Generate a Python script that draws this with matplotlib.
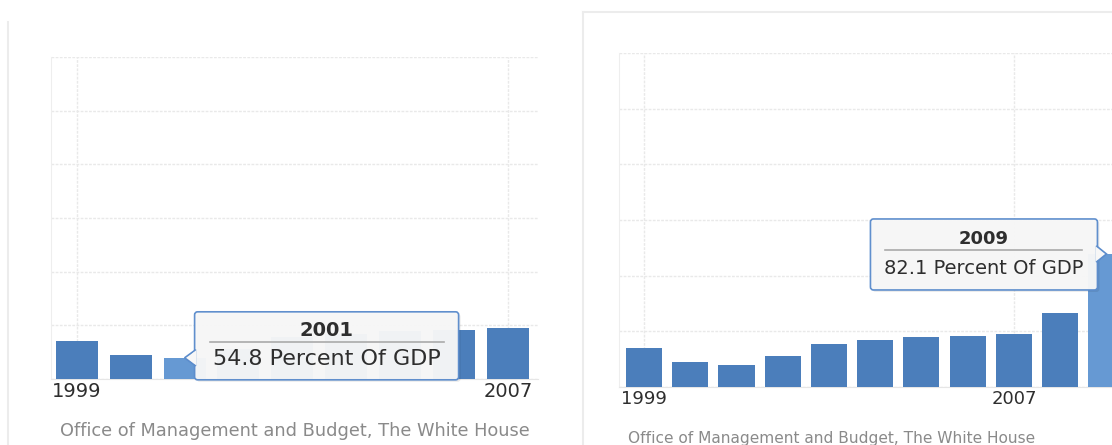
import matplotlib
matplotlib.use('Agg')
import matplotlib.pyplot as plt
import numpy as np
from matplotlib.patches import FancyBboxPatch, Polygon
from matplotlib.lines import Line2D
from matplotlib.transforms import IdentityTransform

# data
years = [1999, 2000, 2001, 2002, 2003, 2004, 2005, 2006, 2007, 2008, 2009]
debt_gdp = [59.0, 55.5, 54.8, 57.1, 60.0, 61.0, 61.6, 61.9, 62.4, 67.5, 82.1]
tick_years = [1999, 2007]
source = 'Office of Management and Budget, The White House'
unit = 'Percent Of GDP'

bar_color = '#4b7ebb'
hi_color = '#6699d3'
grid_color = '#e9e9e9'
text_color = '#2e2e2e'

plt.rcParams['font.family'] = ['DejaVu Sans']

W, H = 1112, 445
fig = plt.figure(figsize=(W / 100, H / 100), dpi=100)
fig.patch.set_facecolor('white')


def px(x, y):
    # image pixel (top-left origin) -> figure fraction
    return x / W, 1 - y / H


def panel(rect, xlim, last_year, hi_year, tip_side, tick_fs, body_fs):
    x0, y1 = px(rect[0], rect[1])
    x1, y0 = px(rect[2], rect[3])
    ax = fig.add_axes([x0, y0, x1 - x0, y1 - y0])
    ymin, ymax = 49.4, 131.5
    yrs = [y for y in years if y <= last_year]
    vals = debt_gdp[:len(yrs)]
    colors = [hi_color if y == hi_year else bar_color for y in yrs]
    ax.bar(yrs, vals, width=0.78, color=colors, bottom=0, zorder=3)
    ax.set_ylim(ymin, ymax)
    ax.set_xlim(*xlim)
    ax.set_yticks(np.linspace(ymin, ymax, 7))
    ax.set_yticklabels([])
    ax.set_xticks(tick_years)
    ax.set_xticklabels([str(t) for t in tick_years], fontsize=tick_fs, color=text_color)
    ax.tick_params(length=0, pad=2)
    ax.grid(True, color=grid_color, linewidth=1, linestyle=(0, (2, 1)), zorder=0)
    for s in ['top', 'right']:
        ax.spines[s].set_visible(False)
    ax.spines['left'].set_color('#eeeeee')
    ax.spines['bottom'].set_color('#e6e6e6')
    ax.set_facecolor('white')

    # tooltip
    i = years.index(hi_year)
    tx, ty = ax.transData.transform((hi_year, debt_gdp[i]))
    if tip_side == 'left':
        bx0, bx1 = tx + 10, tx + 274
        by0, by1 = ty - 22, ty + 46
        tri = [(tx, ty), (bx0 + 1, ty + 8), (bx0 + 1, ty - 8)]
    else:
        bx0, bx1 = tx - 236, tx - 9
        by0, by1 = ty - 36, ty + 35
        tri = [(tx, ty), (bx1 - 1, ty + 8), (bx1 - 1, ty - 8)]
    idt = IdentityTransform()
    shadow = FancyBboxPatch((bx0 + 2, by0 - 2), bx1 - bx0, by1 - by0,
                            boxstyle='round,pad=0,rounding_size=3',
                            transform=idt, facecolor='#000000', alpha=0.08,
                            edgecolor='none', zorder=9)
    box = FancyBboxPatch((bx0, by0), bx1 - bx0, by1 - by0,
                         boxstyle='round,pad=0,rounding_size=3',
                         transform=idt, facecolor='#f7f7f7', alpha=0.97,
                         edgecolor='#5b8ccc', linewidth=1.2, zorder=10)
    arrow = Polygon(tri, closed=True, transform=idt, facecolor='#f7f7f7',
                    edgecolor='#5b8ccc', linewidth=1.2, zorder=11)
    cover = Polygon([(p[0] + (1 if tip_side == 'left' else -1), p[1]) for p in tri[1:]] +
                    [(tri[0][0] + (3 if tip_side == 'left' else -3), tri[0][1])],
                    closed=True, transform=idt, facecolor='#f7f7f7',
                    edgecolor='none', zorder=12)
    for a in [shadow, box, arrow, cover]:
        fig.add_artist(a)
    cx = (bx0 + bx1) / 2
    h = by1 - by0
    fig.text(cx / W, (by1 - h * 0.28) / H, str(hi_year), ha='center', va='center',
             fontsize=tick_fs, fontweight='bold', color=text_color, zorder=13)
    fig.add_artist(Line2D([(bx0 + 15) / W, (bx1 - 15) / W],
                          [(by1 - h * 0.44) / H, (by1 - h * 0.44) / H],
                          color='#aaaaaa', linewidth=1.2, zorder=13))
    fig.text(cx / W, (by1 - h * 0.70) / H, '%.1f %s' % (debt_gdp[i], unit),
             ha='center', va='center', fontsize=body_fs, color=text_color, zorder=13)
    return ax


left = panel((51, 57, 538, 379), (1998.52, 2007.56), 2007, 2001, 'left', 14, 16)
right = panel((619, 53, 1112, 387), (1998.46, 2009.12), 2009, 2009, 'right', 13, 14)

# source captions
fig.text(60 / W, 1 - 431 / H, source, fontsize=12.8, color='#8a8a8a', va='center')
fig.text(628 / W, 1 - 439 / H, source, fontsize=11.1, color='#8a8a8a', va='center')

# faint panel frames
frame = '#ececec'
fig.add_artist(Line2D([8 / W, 8 / W], [1 - 22 / H, 0], color=frame, linewidth=1.5))
fig.add_artist(Line2D([583 / W, 1], [1 - 12 / H, 1 - 12 / H], color=frame, linewidth=1.5))
fig.add_artist(Line2D([583 / W, 583 / W], [1 - 12 / H, 0], color=frame, linewidth=1.5))

plt.savefig('out.png', dpi=100)
